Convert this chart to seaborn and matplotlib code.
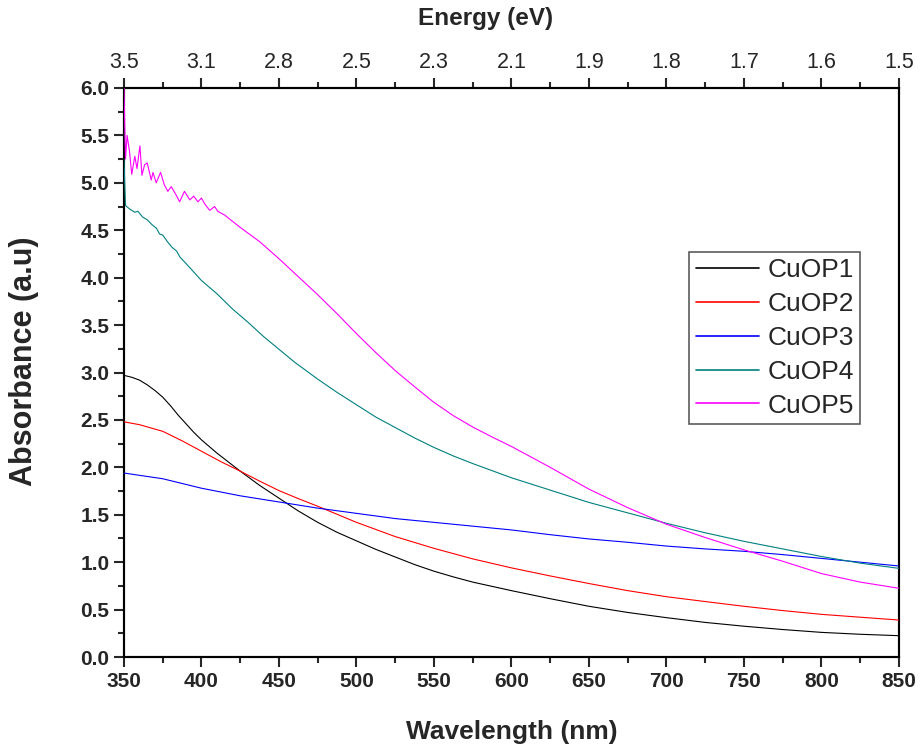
import numpy as np
import pandas as pd
from matplotlib import pyplot as plt
from matplotlib.ticker import MultipleLocator
import seaborn as sns

sns.set_style('ticks')
plt.rcParams['font.family'] = ['Liberation Sans', 'DejaVu Sans']

wl_1 = [350, 355, 360, 365, 370, 375, 380, 385, 390, 395, 400, 410, 425, 437.5,
        450, 462.5, 475, 487.5, 500, 512.5, 525, 537.5, 550, 562.5, 575, 587.5,
        600, 625, 650, 675, 700, 725, 750, 775, 800, 825, 850]
abs_1 = [2.97, 2.95, 2.92, 2.87, 2.81, 2.74, 2.65, 2.55, 2.46, 2.37, 2.29, 2.15,
         1.96, 1.81, 1.675, 1.54, 1.42, 1.315, 1.225, 1.135, 1.055, 0.975, 0.905,
         0.845, 0.79, 0.745, 0.70, 0.615, 0.535, 0.47, 0.415, 0.365, 0.325, 0.29,
         0.26, 0.24, 0.225]

wl_2 = [350, 360, 375, 387.5, 400, 412.5, 425, 437.5, 450, 462.5, 475, 487.5,
        500, 512.5, 525, 550, 575, 600, 625, 650, 675, 700, 725, 750, 775, 800,
        825, 850]
abs_2 = [2.48, 2.45, 2.38, 2.28, 2.17, 2.06, 1.96, 1.855, 1.755, 1.67, 1.59,
         1.505, 1.42, 1.345, 1.27, 1.146, 1.035, 0.94, 0.855, 0.775, 0.70, 0.636,
         0.585, 0.535, 0.49, 0.45, 0.42, 0.39]

wl_3 = [350, 375, 400, 425, 450, 475, 500, 525, 550, 575, 600, 625, 650, 675,
        700, 725, 750, 775, 800, 825, 850]
abs_3 = [1.94, 1.88, 1.78, 1.70, 1.635, 1.57, 1.515, 1.46, 1.42, 1.38, 1.34, 1.29,
         1.245, 1.21, 1.17, 1.14, 1.115, 1.08, 1.04, 1.0, 0.96]

wl_4 = [350, 351, 354, 357, 359, 362, 365, 368, 371, 373, 375, 378, 381, 384,
        386, 390, 395, 400, 410, 420, 430, 440, 450, 460, 475, 487.5, 500, 512.5,
        525, 537.5, 550, 562.5, 575, 600, 625, 650, 675, 700, 725, 750, 775, 800,
        825, 850]
abs_4 = [5.25, 4.76, 4.72, 4.69, 4.70, 4.64, 4.61, 4.56, 4.52, 4.46, 4.45, 4.38,
         4.32, 4.28, 4.22, 4.15, 4.06, 3.97, 3.83, 3.67, 3.53, 3.38, 3.245, 3.11,
         2.93, 2.79, 2.66, 2.53, 2.42, 2.31, 2.21, 2.12, 2.04, 1.89, 1.76, 1.63,
         1.52, 1.41, 1.31, 1.22, 1.14, 1.06, 0.99, 0.935]

wl_5 = [350, 351, 352, 353.6, 355, 357, 358.4, 360.3, 361.6, 363.3, 365, 367.6,
        368.7, 370.8, 373.6, 376, 378.3, 380.5, 383.7, 385.9, 389, 392.5, 395,
        397.7, 400, 402, 405.3, 408.5, 410.5, 412.7, 415, 418, 425, 437.5, 450,
        462.5, 475, 487.5, 500, 512.5, 525, 537.5, 550, 562.5, 575, 587.5, 600,
        625, 650, 675, 700, 725, 750, 775, 800, 825, 850]
abs_5 = [6.0, 5.25, 5.50, 5.33, 5.09, 5.28, 5.15, 5.39, 5.08, 5.19, 5.21, 5.03,
         5.11, 5.00, 5.11, 4.98, 4.91, 4.96, 4.87, 4.80, 4.91, 4.82, 4.86, 4.80,
         4.84, 4.78, 4.71, 4.75, 4.70, 4.68, 4.66, 4.62, 4.53, 4.38, 4.20, 4.01,
         3.82, 3.62, 3.41, 3.21, 3.02, 2.85, 2.685, 2.545, 2.425, 2.32, 2.22,
         2.00, 1.77, 1.575, 1.40, 1.26, 1.13, 1.01, 0.88, 0.79, 0.725]

samples = ['CuOP1', 'CuOP2', 'CuOP3', 'CuOP4', 'CuOP5']
colors = ['#000000', '#ff0000', '#0000ff', '#008080', '#ff00ff']

wl_ticks = [350, 400, 450, 500, 550, 600, 650, 700, 750, 800, 850]
energy_labels = ['3.5', '3.1', '2.8', '2.5', '2.3', '2.1', '1.9', '1.8', '1.7',
                 '1.6', '1.5']

frames = []
for name, wl, ab in zip(samples, [wl_1, wl_2, wl_3, wl_4, wl_5],
                        [abs_1, abs_2, abs_3, abs_4, abs_5]):
    frames.append(pd.DataFrame({'wavelength': wl, 'absorbance': ab, 'sample': name}))
df = pd.concat(frames, ignore_index=True)

fig = plt.figure(figsize=(9.21, 7.54), dpi=100)
ax = fig.add_axes([0.1346, 0.1286, 0.8415, 0.7547])

# energy scale on top (made first so the spectra sit above its spines)
ax2 = ax.twiny()
ax.set_zorder(ax2.get_zorder() + 1)
ax.patch.set_visible(False)

sns.lineplot(data=df, x='wavelength', y='absorbance', hue='sample',
             palette=dict(zip(samples, colors)), estimator=None, sort=False,
             lw=0.8, ax=ax, zorder=3)

ax.set_xlim(350, 850)
ax.set_ylim(0, 6)
ax.xaxis.set_major_locator(MultipleLocator(50))
ax.xaxis.set_minor_locator(MultipleLocator(25))
ax.yaxis.set_major_locator(MultipleLocator(0.5))
ax.yaxis.set_minor_locator(MultipleLocator(0.25))
ax.yaxis.set_major_formatter(plt.FormatStrFormatter('%.1f'))
ax.tick_params(which='major', length=7, width=1.5, labelsize=15, direction='out')
ax.tick_params(which='minor', length=4, width=1.5, direction='out')
for lab in ax.get_xticklabels() + ax.get_yticklabels():
    lab.set_fontweight('bold')
for sp in ax.spines.values():
    sp.set_linewidth(1.5)
    sp.set_color('black')
    sp.set_zorder(2)

ax.set_xlabel('Wavelength (nm)', fontsize=19, fontweight='bold', labelpad=21)
ax.set_ylabel('Absorbance (a.u)', fontsize=22, fontweight='bold')
ax.yaxis.set_label_coords(-0.11, 0.52)

ax2.set_xlim(ax.get_xlim())
ax2.set_xticks(wl_ticks)
ax2.set_xticklabels(energy_labels)
ax2.xaxis.set_minor_locator(MultipleLocator(25))
ax2.tick_params(which='major', length=7, width=1.5, labelsize=15.5, direction='out')
ax2.tick_params(which='minor', length=4, width=1.5, direction='out')
ax2.set_xlabel('Energy (eV)', fontsize=17.5, fontweight='bold')
ax2.xaxis.set_label_coords(0.466, 1.11)
for sp in ax2.spines.values():
    sp.set_linewidth(1.5)

leg = ax.legend(loc='upper right', bbox_to_anchor=(0.95, 0.712), fontsize=19,
                frameon=True, fancybox=False, edgecolor='#333333',
                handlelength=2.4, handletextpad=0.3, labelspacing=0.37,
                borderpad=0.25, borderaxespad=0)
leg.get_frame().set_linewidth(1.2)
leg.set_zorder(5)
for h in leg.get_lines():
    h.set_linewidth(1.2)

fig.savefig('out.png', dpi=100)
